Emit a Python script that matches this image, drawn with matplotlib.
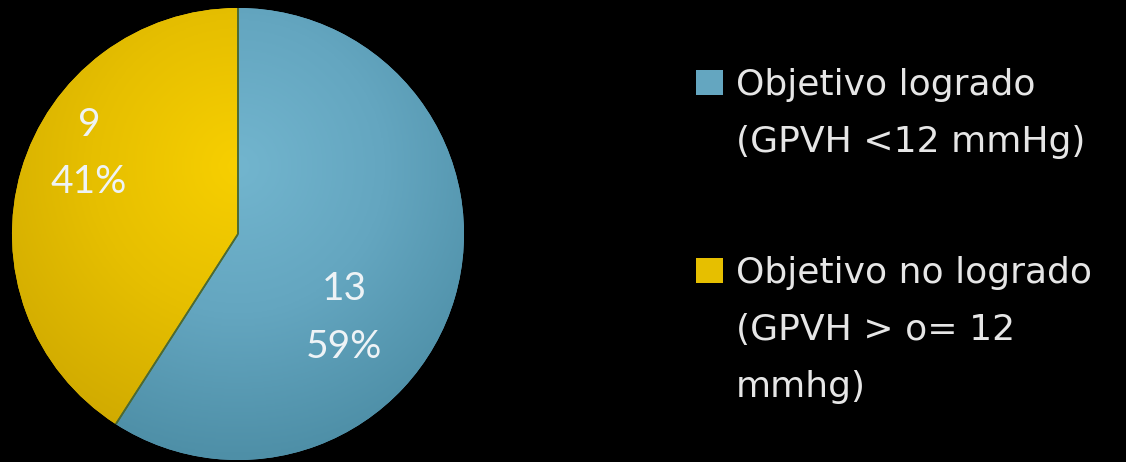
import matplotlib
matplotlib.use('Agg')
import matplotlib.pyplot as plt
from matplotlib.patches import Rectangle
import numpy as np

# data
categories = ['Objetivo logrado\n(GPVH <12 mmHg)', 'Objetivo no logrado\n(GPVH > o= 12\nmmhg)']
counts = [13, 9]
colors = ['#64a6c0', '#e6bf00']
shade_light = ['#72b5ce', '#f7cf00']
shade_dark = ['#4e8fa7', '#d0aa00']

plt.rcParams['font.family'] = ['Lato', 'DejaVu Sans']

W, H = 1126, 462
fig = plt.figure(figsize=(W / 100, H / 100), dpi=100, facecolor='black')

# pie axes, pixel box of the circle
ax = fig.add_axes([12 / W, 2 / H, 452 / W, 452 / H])
ax.set_facecolor('black')

total = sum(counts)
wedges, _ = ax.pie(counts, colors=colors, startangle=90, counterclock=False,
                   radius=1.0, wedgeprops=dict(edgecolor='none'))

# soft radial shading inside each wedge
yy, xx = np.mgrid[-1:1:400j, -1:1:400j]
rr = np.clip(np.sqrt(xx ** 2 + (yy - 0.3) ** 2) / 1.3, 0, 1)
for w, c1, c2 in zip(wedges, shade_light, shade_dark):
    cmap = matplotlib.colors.LinearSegmentedColormap.from_list('s', [c1, w.get_facecolor(), c2])
    im = ax.imshow(rr, cmap=cmap, extent=(-1, 1, -1, 1), origin='lower', zorder=1.5)
    im.set_clip_path(w)

# thin dark line on the slice borders (radial only)
for w in wedges:
    for ang in (w.theta1, w.theta2):
        a = np.deg2rad(ang)
        ax.plot([0, np.cos(a)], [0, np.sin(a)], color='#4c6a34', lw=1.2,
                solid_capstyle='butt', zorder=2)

# labels: count and percent, offsets relative to wedge mid-angle
label_r = [0.6, 0.75]
label_shift = [-22, -12]
theta = 90.0
for w, n, r, s in zip(wedges, counts, label_r, label_shift):
    span = 360.0 * n / total
    mid = np.deg2rad(theta - span / 2 + s)
    theta -= span
    ax.text(r * np.cos(mid), r * np.sin(mid), f'{n}\n{round(100 * n / total)}%',
            ha='center', va='center', color='#eef3f6', fontsize=28,
            linespacing=1.75, zorder=3)

ax.set_xlim(-1.0, 1.0)
ax.set_ylim(-1.0, 1.0)
ax.set_aspect('equal')
ax.axis('off')

# legend, drawn by hand, one text per line
first_baseline = [95, 283]
line_step = 57
for lab, c, base in zip(categories, colors, first_baseline):
    fig.patches.append(Rectangle((696 / W, 1 - (base) / H), 27 / W, 25 / H,
                                 transform=fig.transFigure, facecolor=c,
                                 edgecolor='none'))
    for i, line in enumerate(lab.split('\n')):
        fig.text(736 / W, 1 - (base + i * line_step) / H, line, ha='left',
                 va='baseline', color='#e6e6e6', fontsize=26,
                 family='DejaVu Sans')

fig.savefig('out.png', dpi=100, facecolor='black')
